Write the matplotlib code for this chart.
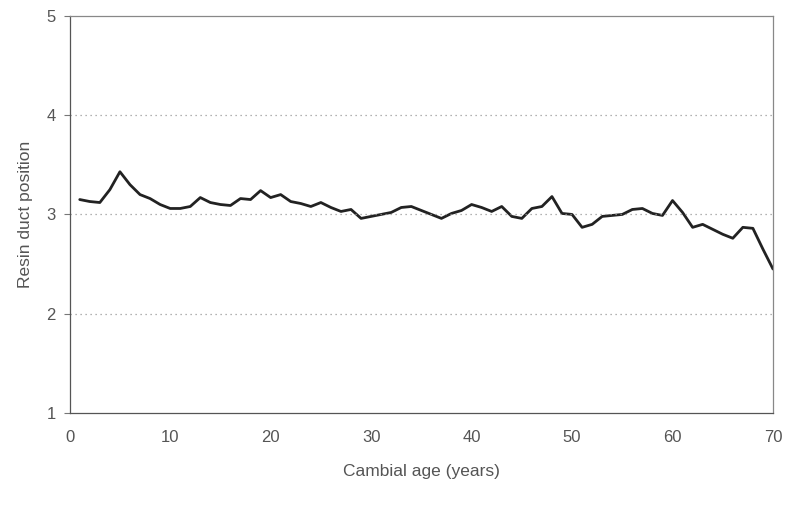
import matplotlib.pyplot as plt

years = list(range(1, 71))
position = [3.15, 3.13, 3.12, 3.25, 3.43, 3.30, 3.20, 3.16, 3.10, 3.06,
            3.06, 3.08, 3.17, 3.12, 3.10, 3.09, 3.16, 3.15, 3.24, 3.17,
            3.20, 3.13, 3.11, 3.08, 3.12, 3.07, 3.03, 3.05, 2.96, 2.98,
            3.00, 3.02, 3.07, 3.08, 3.04, 3.00, 2.96, 3.01, 3.04, 3.10,
            3.07, 3.03, 3.08, 2.98, 2.96, 3.06, 3.08, 3.18, 3.01, 3.00,
            2.87, 2.90, 2.98, 2.99, 3.00, 3.05, 3.06, 3.01, 2.99, 3.14,
            3.02, 2.87, 2.90, 2.85, 2.80, 2.76, 2.87, 2.86, 2.65, 2.45]

xticks = [0, 10, 20, 30, 40, 50, 60, 70]
yticks = [1, 2, 3, 4, 5]

plt.rcParams['font.family'] = ['Liberation Sans', 'DejaVu Sans']
txt = '#555555'

fig = plt.figure(figsize=(7.92, 5.13), dpi=100)
ax = fig.add_axes([0.088, 0.195, 0.888, 0.774])

ax.plot(years, position, color='#222222', linewidth=2.0,
        solid_joinstyle='round', solid_capstyle='round')

ax.set_xlim(0, 70)
ax.set_ylim(1, 5)
ax.set_xticks(xticks)
ax.set_yticks(yticks)
ax.tick_params(axis='x', length=0, pad=12, labelsize=12, labelcolor=txt)
ax.tick_params(axis='y', length=4, width=0.8, color='#777777', pad=6,
               labelsize=12, labelcolor=txt)

for y in [2, 3, 4]:
    ax.axhline(y, color='#999999', linestyle=(0, (1, 3)), linewidth=0.9)

for s in ax.spines.values():
    s.set_color('#888888')
    s.set_linewidth(0.9)
ax.spines['left'].set_color('#555555')
ax.spines['bottom'].set_color('#555555')

ax.set_xlabel('Cambial age (years)', fontsize=12.5, color=txt, labelpad=14)
ax.set_ylabel('Resin duct position', fontsize=12.5, color=txt, labelpad=10)

fig.savefig('out.png', dpi=100)
